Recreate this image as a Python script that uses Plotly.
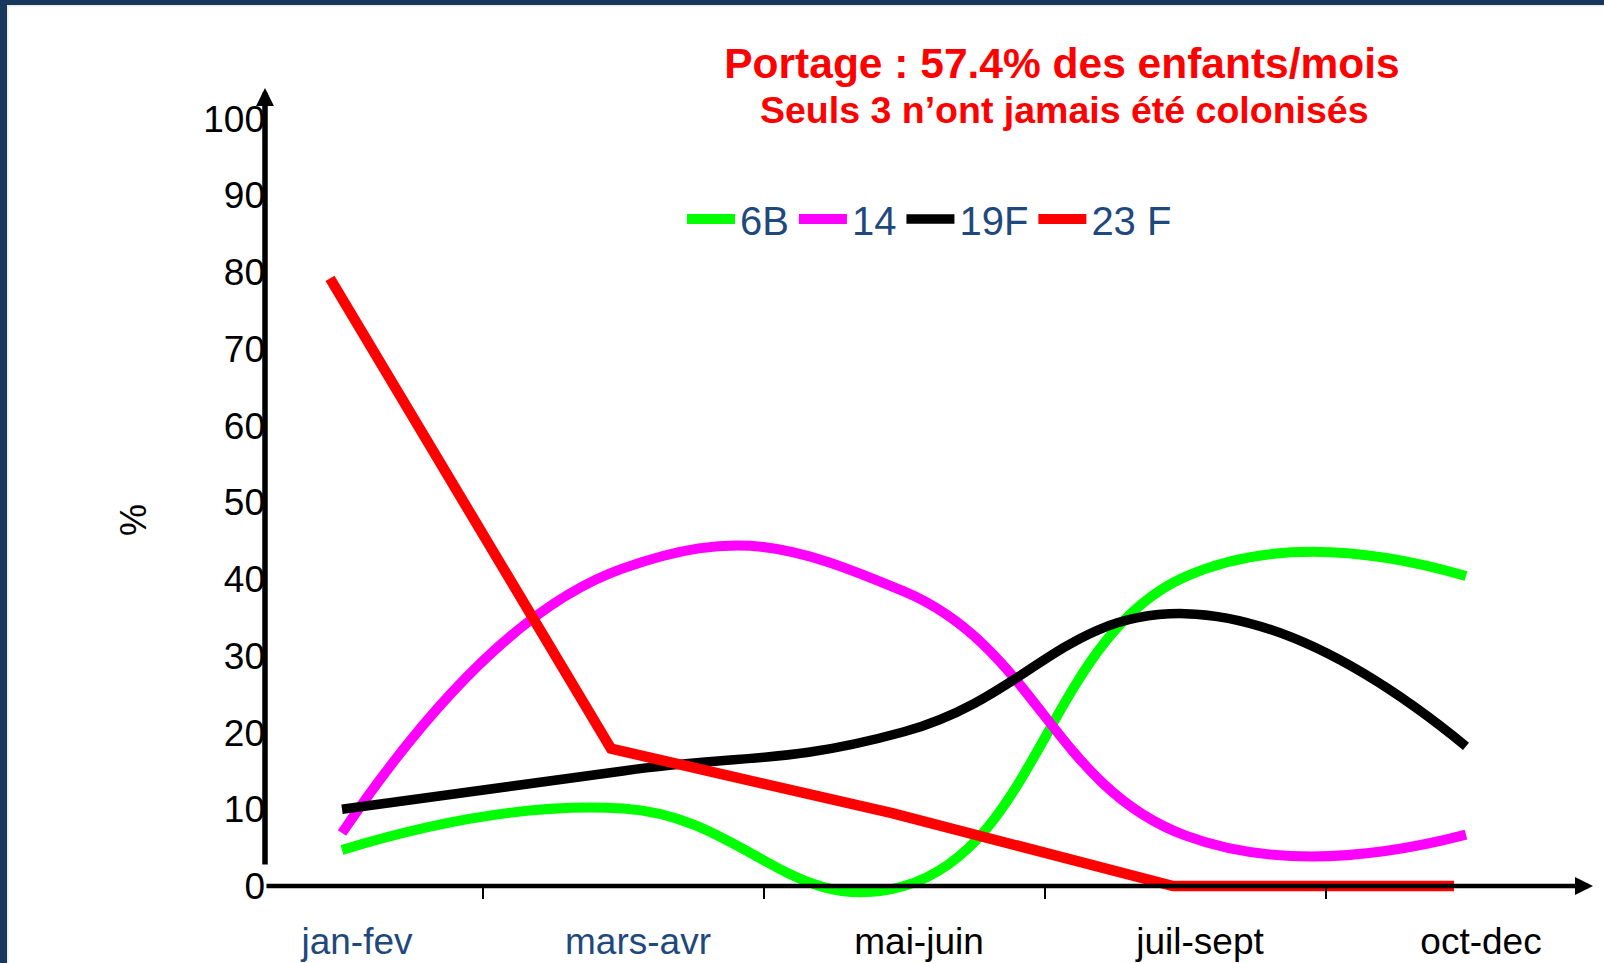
import plotly.graph_objects as go

# ---------------- data ----------------
categories = ["jan-fev", "mars-avr", "mai-juin", "juil-sept", "oct-dec"]
series_names = ["6B", "14", "19F", "23 F"]
s_6b = [4.7, 10.1, 0.0, 40.3, 40.4]
s_14 = [6.9, 41.4, 38.4, 6.6, 6.7]
s_19f = [10.0, 15.0, 20.1, 35.5, 18.2]
s_23f = [79.2, 17.9, 9.5, 0.0, 0.0]
y_ticks = [0, 10, 20, 30, 40, 50, 60, 70, 80, 90, 100]
title_main = "Portage : 57.4% des enfants/mois"
title_sub = "Seuls 3 n\u2019ont jamais \u00e9t\u00e9 colonis\u00e9s"
y_label = "%"

# ---------------- style / layout ----------------
W, H = 1604, 963
PLOT_L, PLOT_R, PLOT_T, PLOT_B = 265, 1595, 70, 905
Y0_PX, PX_PER_PCT = 886, 7.672
X0_PX, PX_PER_CAT = 342, 281
RED_SHIFT_PX = 12          # the red series is drawn slightly left in the original
FONT = "Liberation Sans, Arial, sans-serif"
NAVY = "#1F497D"
tick_colors = [NAVY, NAVY, "#000000", "#000000", "#000000"]
series_colors = ["#00FF00", "#FF00FF", "#000000", "#FF0000"]
series_widths = [10, 10, 9.5, 10.5]
series_shapes = ["spline", "spline", "spline", "linear"]
series_xaxes = ["x", "x", "x", "x2"]

y_range = [-(PLOT_B - Y0_PX) / PX_PER_PCT, (Y0_PX - PLOT_T) / PX_PER_PCT]
x_range = [(PLOT_L - X0_PX) / PX_PER_CAT, (PLOT_R - X0_PX) / PX_PER_CAT]
dx = RED_SHIFT_PX / PX_PER_CAT
x2_range = [x_range[0] + dx, x_range[1] + dx]


def pxx(px):
    return (px - PLOT_L) / (PLOT_R - PLOT_L)


def pxy(py):
    return (PLOT_B - py) / (PLOT_B - PLOT_T)


xs = list(range(len(categories)))
fig = go.Figure()
for name, vals, col, wd, shp, xa in zip(series_names, [s_6b, s_14, s_19f, s_23f],
                                        series_colors, series_widths, series_shapes,
                                        series_xaxes):
    fig.add_trace(go.Scatter(
        x=xs, y=vals, name=name, mode="lines", xaxis=xa, yaxis="y",
        line=dict(color=col, width=wd, shape=shp, smoothing=1.3),
        customdata=categories, hovertemplate="%{customdata}: %{y}%<extra>" + name + "</extra>",
    ))

ticktext = [f'<span style="color:{c}">{t}</span>' for t, c in zip(categories, tick_colors)]

fig.update_layout(
    width=W, height=H,
    margin=dict(l=PLOT_L, r=W - PLOT_R, t=PLOT_T, b=H - PLOT_B, pad=0, autoexpand=False),
    paper_bgcolor="white", plot_bgcolor="white",
    font=dict(family=FONT, color="black"),
    title=dict(text=title_main, xref="container", yref="container",
               x=1062 / W, xanchor="center", y=1 - 63 / H, yanchor="middle",
               font=dict(family=FONT, size=42.5, color="#FF0000", weight="bold")),
    xaxis=dict(range=x_range, showgrid=False, zeroline=False, showline=False,
               automargin=False,
               tickmode="array", tickvals=xs, ticktext=ticktext, ticks="",
               tickfont=dict(family=FONT, size=37), ticklabelshift=15,
               ticklabelstandoff=30,
               anchor="free", position=pxy(Y0_PX),
               minor=dict(tickmode="array", tickvals=[0.5, 1.5, 2.5, 3.5],
                          ticks="outside", ticklen=12, tickwidth=2, tickcolor="black")),
    xaxis2=dict(range=x2_range, overlaying="x", visible=False, anchor="y", automargin=False),
    yaxis=dict(range=y_range, showgrid=False, zeroline=False, showline=False,
               automargin=False,
               tickmode="array", tickvals=y_ticks, ticktext=[str(v) for v in y_ticks],
               ticks="", tickfont=dict(family=FONT, size=37), ticklabelstandoff=-1),
    legend=dict(orientation="h", x=pxx(682), xanchor="left", y=pxy(219), yanchor="middle",
                font=dict(family=FONT, size=40, color=NAVY), bgcolor="rgba(0,0,0,0)",
                itemwidth=48, traceorder="normal"),
    showlegend=True,
)

# axes drawn as arrows
fig.add_annotation(xref="paper", yref="paper", x=pxx(265), y=pxy(88), ax=0, ay=866 - 88,
                   text="", showarrow=True, arrowhead=2, arrowsize=0.65, arrowwidth=5.5,
                   arrowcolor="black", standoff=0)
fig.add_annotation(xref="paper", yref="paper", x=pxx(1593), y=pxy(Y0_PX), ax=265 - 1593, ay=0,
                   text="", showarrow=True, arrowhead=2, arrowsize=0.8, arrowwidth=4.5,
                   arrowcolor="black", standoff=0)
# subtitle
fig.add_annotation(xref="paper", yref="paper", x=pxx(1064), y=pxy(110), text=title_sub,
                   showarrow=False, xanchor="center", yanchor="middle",
                   font=dict(family=FONT, size=37.5, color="#FF0000", weight="bold"))
# y label
fig.add_annotation(xref="paper", yref="paper", x=pxx(133), y=pxy(520), text=y_label,
                   showarrow=False, textangle=-90, xanchor="center", yanchor="middle",
                   font=dict(family=FONT, size=36, color="black"))

# slide border (navy + thin beige strip)
for (x0, x1, y0, y1, c) in [
    (0, 8.5, 0, H, "#EEECE1"), (0, W, 0, 6.5, "#EEECE1"),
    (0, 7, 0, H, "#17375E"), (0, W, 0, 5, "#17375E"),
]:
    fig.add_shape(type="rect", xref="paper", yref="paper",
                  x0=pxx(x0), x1=pxx(x1), y0=pxy(y1), y1=pxy(y0),
                  fillcolor=c, line=dict(width=0), layer="above")

fig.write_html("out.html",
               config={"displayModeBar": False},
               post_script="document.body.style.margin='0px';"
                           "document.body.style.overflow='hidden';")
